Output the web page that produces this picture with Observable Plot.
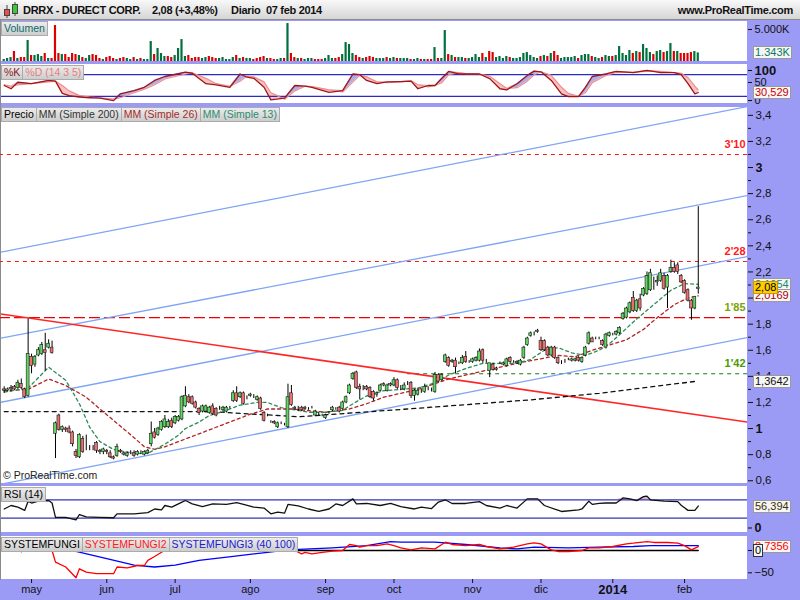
<!DOCTYPE html>
<html><head><meta charset="utf-8">
<script src="https://cdn.jsdelivr.net/npm/d3@7"></script>
<script src="https://cdn.jsdelivr.net/npm/@observablehq/plot@0.6"></script>
<style>
body{margin:0;background:#fff;}
#root{position:relative;width:800px;height:600px;background:#9b9bf5;overflow:hidden;font-family:'Liberation Sans',Arial,sans-serif;}
#root svg{position:absolute;left:0;}
.panel{position:absolute;left:1px;width:746px;background:#fff;}
.lbls{position:absolute;left:1px;display:flex;}
.lb{height:13px;line-height:13px;font-size:10.5px;padding:0 2px;background:linear-gradient(#ececec,#cdcdcd);border:1px solid #ababab;border-left:none;white-space:nowrap;}
.lb:first-child{border-left:1px solid #ababab;}
.vb{position:absolute;left:753px;height:11px;line-height:11px;font-size:11px;padding:0 1px;background:#f6f6f6;border:1px solid #9a9a9a;white-space:nowrap;}
.ht{position:absolute;top:4px;font-weight:bold;font-size:11px;letter-spacing:-0.3px;color:#111;white-space:nowrap;}
</style></head>
<body>
<div id="root"></div>
<script>
// ---------------- DATA ----------------
// daily candles, index 0 = 19 abr 2013 ... 203 = 07 feb 2014
const open = [
1.30,1.29,1.30,1.32,1.31,1.34,1.30,1.25,1.55,1.49,
1.56,1.57,1.60,1.62,1.62,0.96,1.10,0.99,1.00,1.00,
0.97,0.82,0.78,0.92,0.86,0.86,0.85,0.89,0.83,0.82,
0.83,0.81,0.78,0.79,0.83,0.81,0.79,0.81,0.81,0.80,
0.81,0.80,0.81,0.88,0.97,0.95,0.99,1.01,1.01,1.06,
1.04,1.06,1.07,1.17,1.24,1.24,1.20,1.15,1.13,1.13,
1.12,1.17,1.15,1.15,1.14,1.13,1.16,1.21,1.27,1.24,
1.27,1.24,1.25,1.25,1.22,1.23,1.12,1.10,1.05,1.05,
1.01,1.04,1.03,1.01,1.27,1.16,1.15,1.16,1.16,1.15,
1.16,1.10,1.11,1.10,1.08,1.12,1.14,1.15,1.16,1.15,
1.20,1.27,1.38,1.43,1.32,1.31,1.32,1.31,1.28,1.26,
1.29,1.33,1.29,1.33,1.33,1.37,1.31,1.30,1.34,1.35,
1.25,1.26,1.28,1.28,1.30,1.29,1.28,1.41,1.37,1.51,
1.54,1.51,1.52,1.50,1.50,1.55,1.51,1.51,1.52,1.52,
1.60,1.52,1.44,1.49,1.46,1.50,1.49,1.48,1.54,1.51,
1.50,1.49,1.54,1.64,1.71,1.73,1.74,1.67,1.67,1.62,
1.56,1.62,1.54,1.51,1.52,1.53,1.52,1.52,1.54,1.51,
1.56,1.65,1.69,1.69,1.69,1.67,1.62,1.71,1.72,1.72,
1.73,1.84,1.85,1.89,2.00,1.90,1.99,2.02,2.03,2.06,
2.11,2.12,2.13,2.17,2.08,2.20,2.23,2.25,2.17,2.13,
2.06,1.98,1.92,2.07];
const high = [
1.32,1.31,1.33,1.33,1.37,1.38,1.31,1.84,1.57,1.56,
1.62,1.66,1.73,1.68,1.67,1.05,1.11,1.02,1.01,1.02,
0.98,0.84,0.96,0.94,0.95,0.87,0.87,0.90,0.84,0.85,
0.84,0.83,0.79,0.88,0.84,0.82,0.82,0.83,0.83,0.83,
0.83,0.83,0.84,1.05,1.00,1.01,1.06,1.10,1.07,1.08,
1.10,1.10,1.25,1.32,1.26,1.25,1.21,1.16,1.18,1.18,
1.17,1.19,1.16,1.17,1.17,1.17,1.17,1.29,1.32,1.28,
1.28,1.25,1.27,1.26,1.25,1.24,1.13,1.11,1.06,1.06,
1.05,1.05,1.04,1.34,1.33,1.17,1.17,1.17,1.17,1.16,
1.17,1.14,1.12,1.11,1.11,1.13,1.17,1.16,1.17,1.21,
1.25,1.34,1.43,1.44,1.34,1.33,1.33,1.32,1.29,1.28,
1.34,1.35,1.34,1.35,1.39,1.38,1.33,1.35,1.36,1.36,
1.30,1.31,1.30,1.34,1.32,1.31,1.43,1.42,1.42,1.57,
1.55,1.53,1.54,1.51,1.56,1.59,1.52,1.54,1.55,1.61,
1.61,1.53,1.50,1.50,1.47,1.51,1.51,1.54,1.55,1.52,
1.52,1.53,1.63,1.70,1.74,1.74,1.76,1.70,1.68,1.63,
1.63,1.63,1.55,1.52,1.53,1.54,1.54,1.54,1.55,1.55,
1.63,1.74,1.70,1.70,1.70,1.68,1.73,1.74,1.73,1.75,
1.78,1.89,1.93,1.97,2.05,1.99,2.03,2.08,2.20,2.22,
2.16,2.17,2.22,2.19,2.18,2.29,2.27,2.27,2.18,2.14,
2.07,1.99,2.01,2.70];
const low = [
1.27,1.28,1.28,1.29,1.30,1.30,1.23,1.24,1.42,1.47,
1.55,1.56,1.44,1.61,1.57,0.77,0.98,0.97,0.97,0.96,
0.86,0.77,0.77,0.81,0.83,0.83,0.83,0.81,0.80,0.80,
0.80,0.77,0.76,0.78,0.81,0.79,0.78,0.80,0.78,0.79,
0.80,0.79,0.80,0.86,0.92,0.94,0.98,1.00,1.00,1.00,
1.03,1.05,1.06,1.16,1.19,1.18,1.15,1.10,1.12,1.12,
1.11,1.10,1.09,1.14,1.13,1.12,1.15,1.20,1.20,1.23,
1.18,1.22,1.24,1.23,1.21,1.14,1.05,1.09,1.04,1.03,
1.00,1.03,1.02,1.00,1.17,1.14,1.13,1.13,1.14,1.14,
1.15,1.09,1.10,1.09,1.07,1.11,1.13,1.14,1.12,1.14,
1.19,1.26,1.37,1.30,1.22,1.29,1.29,1.23,1.21,1.24,
1.28,1.32,1.28,1.32,1.32,1.30,1.29,1.29,1.33,1.23,
1.21,1.25,1.27,1.27,1.29,1.28,1.27,1.35,1.36,1.50,
1.47,1.50,1.42,1.49,1.49,1.50,1.50,1.50,1.51,1.51,
1.50,1.50,1.39,1.44,1.44,1.49,1.48,1.47,1.50,1.50,
1.49,1.48,1.53,1.63,1.70,1.71,1.73,1.59,1.59,1.55,
1.55,1.53,1.49,1.49,1.50,1.52,1.51,1.51,1.51,1.50,
1.55,1.64,1.66,1.68,1.68,1.63,1.61,1.70,1.71,1.71,
1.72,1.83,1.84,1.88,1.89,1.89,1.90,2.01,2.02,2.05,
2.06,2.09,2.12,2.06,1.92,2.19,2.19,2.18,2.11,2.03,
1.97,1.83,1.91,2.03];
const close = [
1.29,1.30,1.31,1.30,1.35,1.31,1.24,1.57,1.48,1.55,
1.60,1.64,1.58,1.65,1.58,1.04,0.99,1.01,0.99,0.97,
0.88,0.79,0.95,0.82,0.86,0.86,0.85,0.83,0.82,0.84,
0.82,0.78,0.77,0.86,0.82,0.80,0.81,0.81,0.79,0.82,
0.81,0.82,0.83,0.96,0.93,1.00,1.05,1.07,1.05,1.01,
1.09,1.09,1.24,1.25,1.20,1.19,1.16,1.12,1.17,1.17,
1.16,1.11,1.10,1.15,1.16,1.16,1.16,1.27,1.21,1.27,
1.19,1.24,1.26,1.25,1.24,1.15,1.06,1.10,1.05,1.04,
1.04,1.04,1.03,1.24,1.18,1.15,1.15,1.14,1.15,1.15,
1.16,1.13,1.11,1.10,1.10,1.12,1.16,1.15,1.13,1.20,
1.24,1.33,1.42,1.31,1.30,1.31,1.30,1.24,1.23,1.27,
1.33,1.34,1.33,1.34,1.37,1.31,1.31,1.33,1.34,1.25,
1.29,1.29,1.28,1.32,1.30,1.29,1.41,1.36,1.41,1.56,
1.48,1.52,1.47,1.50,1.54,1.51,1.51,1.53,1.54,1.59,
1.52,1.52,1.50,1.45,1.45,1.50,1.50,1.53,1.51,1.51,
1.51,1.52,1.62,1.69,1.73,1.73,1.75,1.60,1.60,1.56,
1.62,1.54,1.50,1.51,1.52,1.53,1.53,1.53,1.52,1.54,
1.62,1.73,1.66,1.69,1.69,1.64,1.72,1.73,1.72,1.74,
1.77,1.88,1.92,1.96,1.90,1.98,1.92,2.07,2.17,2.19,
2.11,2.13,2.19,2.07,2.17,2.23,2.20,2.20,2.12,2.04,
1.98,1.92,2.01,2.08];
// volume in thousands of shares
const volumeK = [
310,470,620,1560,470,620,620,3280,940,940,
1090,780,1250,470,470,5620,1250,1090,1090,620,
1250,1090,940,620,470,940,1090,940,470,310,
620,780,470,310,470,620,470,310,620,310,
470,310,310,3120,1090,2030,1250,780,780,620,
940,2030,3430,780,940,470,620,620,470,620,
780,620,470,470,620,310,310,620,940,470,
620,470,470,310,470,620,780,470,470,310,
310,470,470,5930,1250,620,470,470,310,470,
470,310,310,310,470,940,470,470,620,1090,
2960,2650,1250,940,620,470,620,780,620,470,
470,470,620,470,620,470,470,470,470,310,
310,470,310,310,310,310,2180,470,470,4840,
1090,940,620,620,620,470,470,620,1090,620,
1250,620,1560,1400,620,780,470,780,620,470,
470,620,1250,1400,940,620,470,780,940,780,
1250,1560,940,470,620,620,620,780,470,940,
1090,1090,780,620,470,620,940,780,780,940,
2340,1250,940,1720,1250,1560,1400,2650,2030,1400,
1090,1560,1720,1400,1560,2810,1560,1560,1250,1250,
1250,1400,1560,1343];
// moving averages (read at candle indices)
const ma13I = [0,7,13,18,22,25,28,32,38,42,47,51,53,57,60,64,69,74,77,81,86,89,94,99,102,106,111,121,126,130,135,140,145,150,154,158,162,166,170,174,177,180,185,190,195,199,203];
const ma13V = [1.28,1.31,1.47,1.37,1.19,1.01,0.90,0.84,0.81,0.81,0.88,0.95,1.00,1.05,1.10,1.13,1.18,1.20,1.20,1.16,1.14,1.125,1.125,1.14,1.19,1.25,1.29,1.31,1.35,1.41,1.46,1.50,1.50,1.50,1.53,1.60,1.62,1.58,1.56,1.60,1.65,1.72,1.84,1.95,2.06,2.11,2.1054];
const ma26I = [0,7,13,18,24,28,33,38,41,44,47,51,57,62,67,72,77,84,94,101,106,111,121,130,140,150,154,162,167,172,177,182,187,191,196,200,203];
const ma26V = [1.29,1.30,1.38,1.33,1.24,1.15,1.04,0.93,0.86,0.84,0.86,0.90,0.96,1.01,1.06,1.11,1.15,1.15,1.125,1.15,1.19,1.24,1.30,1.38,1.44,1.50,1.52,1.56,1.55,1.60,1.64,1.68,1.76,1.85,1.95,2.00,2.0169];
const ma200I = [0,40,60,80,86,118,154,174,203];
const ma200V = [1.13,1.13,1.13,1.10,1.09,1.15,1.22,1.27,1.3642];
// drawn trend lines (candle index, price)
const channelI1 = [-1.4,-1.4,-1.4,-1.4], channelV1 = [2.349,1.69,1.199,0.571];
const channelI2 = [217.4,217.4,217.4,217.4], channelV2 = [3.467,2.785,2.318,1.698];
const redLineI = [-1.4,217.4], redLineV = [1.879,1.05];
const levelV = [3.10,2.28,1.85,1.42];
const levelText = ["3'10","2'28","1'85","1'42"];
const levelFromI = [-1.4,-1.4,-1.4,118];
// stochastic %K / %D (14 3 5)
const stochI = [0,2,4,8,13,15,17,19,22,25,28,32,34,38,41,44,47,53,55,59,62,66,69,71,73,76,78,82,85,88,90,95,99,102,104,106,109,112,116,119,121,124,126,128,130,133,135,139,142,145,147,150,153,155,157,160,163,165,168,170,172,176,179,184,188,192,196,198,200,202,203];
const stochK = [50,41,59,55,64,62,28,22,17.5,16,15,8,27,36,45,64,75,87,84,55,52,45,82,73,70,45,10,15,50,48,45,31,36,82,80,64,55,60,61,62,41,50,50,70,89,82,82,82,69,41,38,55,78,90,88,64,27,19,19,45,75,82,89,86,92,86,86,80,55,27,30.529];
const stochD = [52,48,52,55,60,62,50,35,22,18,16,12,16,30,40,52,68,82,85,70,55,48,62,76,74,60,30,12,35,48,47,38,32,60,78,74,60,58,60,63,52,46,50,58,80,86,83,82,76,55,42,44,62,80,88,78,45,28,20,30,58,78,86,87,89,89,86,84,72,48,38];
// RSI (14)
const rsiI = [0,2,4,6,7,8,10,13,14,15,18,21,22,24,28,32,33,36,38,42,44,46,47,49,52,53,55,58,61,65,68,70,73,76,78,80,82,83,86,89,92,95,97,99,102,103,106,110,113,116,120,122,125,127,129,131,135,139,141,145,147,150,153,156,158,163,168,169,171,172,174,176,179,181,183,185,187,188,189,193,197,198,200,202,203];
const rsiV = [50,57.6,54,47,67,63,67,68.5,63,32,32,26.5,38,33,32,31,39.5,39.5,39.5,42,50,48,57.6,54,65,68.5,61,55,61,60,64,60,54,52,39.5,43,41,60,57,50,45,50,61,57.6,72,61,62,57.6,62,55,50,54,51,65,70,62,62,66,57.6,52,57.6,52,72,72,57.6,44.6,48,50,67,60,62,63,63,74,72,68,77,78,70,67,66,58,47,47,56.394];
// SYSTEMFUNGI / SYSTEMFUNGI2 / SYSTEMFUNGI3 (40 100)
const sf1I = [0,203], sf1V = [0,0];
const sf2I = [0,4,5,7,10,13,14,15,18,21,22,24,27,30,32,33,36,39,41,42,44,46,48,55,65,75,83,85,87,88,90,93,96,99,101,103,104,106,109,112,114,116,119,122,126,128,129,131,135,139,141,145,149,153,155,157,160,162,165,169,171,174,178,182,184,188,190,194,197,199,201,203];
const sf2V = [10,3,-3,15,20,15,0,-26,-37,-61,-41,-48.6,-52,-52,-52,-37,-39,-33.6,-33.6,-22,-13.5,-4,5,15,10,8,3.7,0,-7.5,-4,-7.5,-4,-1.5,0,13.5,11,7.5,11,11,15,11,6,1.5,6,3.7,13.5,18.7,13.5,11,13.5,9,3.7,7.5,15,17,15,1.5,-2.2,-2.2,0,6,6,9,15,16.4,20,18,18,16.4,11,1.5,8.7356];
const sf3I = [0,10,17,21,30,38,44,50,57,67,77,83,96,106,113,116,126,135,145,150,155,165,174,184,189,194,203];
const sf3V = [20,10,3,-2,-18,-33,-37,-33,-22,-13,-4,1.5,6,11,20,19,18.7,13.5,6,3.7,7.5,6,7.5,9,11,11,11];
// axes
const monthTickI = [8,30,50,72,94,114,137,157,199];
const monthTickLabel = ["may","jun","jul","ago","sep","oct","nov","dic","feb"];
const yearTickI = [178], yearTickLabel = ["2014"];
const priceTicks = [0.6,0.8,1,1.2,1.4,1.6,1.8,2,2.2,2.4,2.6,2.8,3,3.2,3.4];
const priceMinor = [0.7,0.9,1.1,1.3,1.5,1.7,1.9,2.1,2.3,2.5,2.7,2.9,3.1,3.3];

// ---------------- DRAW ----------------
const FONT = "'Liberation Sans', Arial, sans-serif";
const root = document.getElementById("root");
const xDomain = [-0.79, 217.4];
const UP = "#62d662", DN = "#ec7070";
const zip = (I, V) => I.map((i, k) => ({i, v: V[k]}));
const fmt = d => String(+d.toFixed(2)).replace(".", ",");

function el(tag, cls, style, html) {
  const e = document.createElement(tag);
  if (cls) e.className = cls;
  if (style) e.setAttribute("style", style);
  if (html != null) e.innerHTML = html;
  root.appendChild(e);
  return e;
}
function base(h, extra) {
  return Object.assign({
    width: 800, height: h, marginLeft: 1, marginRight: 53, marginTop: 0, marginBottom: 0,
    x: {domain: xDomain, axis: null},
    color: {type: "identity"},
    style: {background: "transparent", fontFamily: FONT, fontSize: "11px", color: "#111", overflow: "visible"}
  }, extra);
}
function place(svg, top) { svg.style.top = top + "px"; svg.style.position = "absolute"; svg.style.left = "0px"; root.appendChild(svg); return svg; }
const yAx = o => Plot.axisY(Object.assign({anchor: "right", label: null, tickSize: 4, tickPadding: 3}, o));
const xAx = o => Plot.axisX(Object.assign({anchor: "bottom", label: null, tickSize: 4, tickPadding: 2}, o));

// panel backgrounds
const P = {vol: [21, 40], st: [64, 39], pr: [107, 376], rsi: [486, 46], sf: [536, 43]};
for (const k in P) el("div", "panel", `top:${P[k][0]}px;height:${P[k][1]}px;`);
el("div", null, "position:absolute;left:0;top:20px;width:1px;height:560px;background:#8a8a8a;");

// header
const hdr = el("div", null, "position:absolute;left:0;top:0;width:800px;height:20px;background:linear-gradient(#f8f8f8,#d6d6d6);border-bottom:1px solid #8c8c8c;box-sizing:border-box;");
hdr.innerHTML = `<svg width="16" height="18" style="position:absolute;left:3px;top:1px">
<line x1="4" y1="4" x2="4" y2="17" stroke="#444"/><rect x="1.5" y="8.5" width="5" height="6" fill="#e85050" stroke="#444"/>
<line x1="12" y1="1" x2="12" y2="15" stroke="#444"/><rect x="9.5" y="3.5" width="5" height="9" fill="#3cc83c" stroke="#444"/></svg>
<span class="ht" style="left:23px">DRRX - DURECT CORP.</span>
<span class="ht" style="left:152px">2,08 (+3,48%)</span>
<span class="ht" style="left:231px">Diario&nbsp; 07 feb 2014</span>
<span class="ht" style="right:7px">www.ProRealTime.com</span>`;

const candles = close.map((c, i) => ({i, o: open[i], h: high[i], l: low[i], c}));
const vols = volumeK.map((v, i) => ({i, v, up: i === 0 || close[i] >= close[i - 1]}));

// volume
const volPlot = place(Plot.plot(base(40, {
  y: {domain: [0, 6250], axis: null},
  marks: [
    Plot.rect(vols, {x1: d => d.i - 0.32, x2: d => d.i + 0.32, y1: 0, y2: "v", fill: d => d.up ? "#00703c" : "#dd0000"}),
    yAx({ticks: [5000], tickFormat: () => "5.000K", fontSize: 11})
  ]
})), P.vol[0]);

// stochastic
const st = stochI.map((i, k) => ({i, k: stochK[k], d: stochD[k]}));
const stPlot = place(Plot.plot(base(39, {
  y: {domain: [0, 108.33], axis: null},
  marks: [
    Plot.areaY(st, {x: "i", y1: "d", y2: d => Math.max(d.k, d.d), fill: "#a9aeea"}),
    Plot.areaY(st, {x: "i", y1: "k", y2: d => Math.max(d.k, d.d), fill: "#f6c2c2"}),
    Plot.ruleY([80, 20], {stroke: "#2a2ac8", strokeWidth: 1.2}),
    Plot.line(st, {x: "i", y: "d", stroke: "#f08c8c", strokeWidth: 1.2}),
    Plot.line(st, {x: "i", y: "k", stroke: "#a31515", strokeWidth: 1.3}),
    yAx({ticks: [50, 0], fontSize: 11, dy: -3}),
    yAx({ticks: [100], fontSize: 13, fontWeight: "bold", dy: 3})
  ]
})), P.st[0]);

// price
const chan = channelI1.map((i, k) => ({x1: i, y1: channelV1[k], x2: channelI2[k], y2: channelV2[k]}));
const lvlStyle = [
  {stroke: "#ff1a1a", dash: "4,4", color: "#ff1a1a"},
  {stroke: "#ff1a1a", dash: "4,4", color: "#ff1a1a"},
  {stroke: "#e80000", dash: "11,4", color: "#7ba300"},
  {stroke: "#1a7a1a", dash: "4,4", color: "#4c9a00"}
];
const levels = levelV.map((v, k) => ({v, t: levelText[k], from: levelFromI[k], to: 217.4}));
const pricePlot = place(Plot.plot(base(376, {
  y: {domain: [0.579, 3.46], axis: null},
  marks: [
    ...levels.map((d, k) => Plot.ruleY([d], {y: "v", x1: "from", x2: "to", stroke: lvlStyle[k].stroke, strokeDasharray: lvlStyle[k].dash, strokeWidth: 1.2})),
    ...levels.map((d, k) => Plot.text([d], {y: "v", text: "t", frameAnchor: "right", textAnchor: "end", dx: -2, dy: -10, fill: lvlStyle[k].color, fontSize: 11, fontWeight: "bold"})),
    Plot.link(chan, {x1: "x1", y1: "y1", x2: "x2", y2: "y2", stroke: "#7ea4f4", strokeWidth: 1.3, clip: true}),
    Plot.link([{x1: redLineI[0], y1: redLineV[0], x2: redLineI[1], y2: redLineV[1]}], {x1: "x1", y1: "y1", x2: "x2", y2: "y2", stroke: "#ff2626", strokeWidth: 1.6, clip: true}),
    Plot.line(zip(ma200I, ma200V), {x: "i", y: "v", stroke: "#111", strokeWidth: 1.3, strokeDasharray: "4,4"}),
    Plot.line(zip(ma26I, ma26V), {x: "i", y: "v", stroke: "#b22222", strokeWidth: 1.3, strokeDasharray: "3,3"}),
    Plot.line(zip(ma13I, ma13V), {x: "i", y: "v", stroke: "#2e8b57", strokeWidth: 1.3, strokeDasharray: "3,3"}),
    Plot.ruleX(candles, {x: "i", y1: "l", y2: "h", stroke: "#000", strokeWidth: 1}),
    Plot.rect(candles, {x1: d => d.i - 0.42, x2: d => d.i + 0.42, y1: "o", y2: "c", fill: d => d.c >= d.o ? UP : DN, stroke: "#1a1a1a", strokeWidth: 0.6}),
    yAx({ticks: priceMinor, tickSize: 3, tickFormat: () => ""}),
    yAx({ticks: priceTicks.filter(t => !Number.isInteger(t)), tickSize: 5, tickFormat: fmt, fontSize: 11.5}),
    yAx({ticks: priceTicks.filter(t => Number.isInteger(t)), tickSize: 5, tickFormat: fmt, fontSize: 12.5, fontWeight: "bold"})
  ]
})), P.pr[0]);

// RSI
const rsi = zip(rsiI, rsiV);
const rsiPlot = place(Plot.plot(base(46, {
  y: {domain: [-1.09, 98.9], axis: null},
  marks: [
    Plot.areaY(rsi, {x: "i", y1: d => 70, y2: d => Math.max(70, d.v), fill: "#e8b4c4"}),
    Plot.ruleY([70, 30], {stroke: "#3434b0", strokeWidth: 1.2}),
    Plot.line(rsi, {x: "i", y: "v", stroke: "#111", strokeWidth: 1.3}),
    yAx({ticks: [0], fontSize: 12.5, fontWeight: "bold", dy: -4})
  ]
})), P.rsi[0]);

// SYSTEMFUNGI + x axis
const sfPlot = place(Plot.plot(base(64, {
  marginBottom: 21,
  y: {domain: [-65, 31.4], axis: null},
  marks: [
    Plot.line(zip(sf1I, sf1V), {x: "i", y: "v", stroke: "#000", strokeWidth: 1.3}),
    Plot.line(zip(sf3I, sf3V), {x: "i", y: "v", stroke: "#0000ff", strokeWidth: 1.3}),
    Plot.line(zip(sf2I, sf2V), {x: "i", y: "v", stroke: "#ff0000", strokeWidth: 1.3}),
    yAx({ticks: [0, -50], fontSize: 11.5}),
    xAx({ticks: monthTickI, fontSize: 11, tickFormat: d => monthTickLabel[monthTickI.indexOf(d)]}),
    xAx({ticks: yearTickI, tickPadding: 1, fontSize: 13, fontWeight: "bold", tickFormat: d => yearTickLabel[yearTickI.indexOf(d)]})
  ]
})), P.sf[0]);

// panel labels
function labels(top, items) {
  const c = el("div", "lbls", `top:${top}px;`);
  for (const [t, col] of items) { const s = document.createElement("div"); s.className = "lb"; s.style.color = col; s.textContent = t; c.appendChild(s); }
}
labels(21, [["Volumen", "#0b6b6b"]]);
labels(65, [["%K", "#8b1a1a"], ["%D (14 3 5)", "#e57f7f"]]);
labels(107, [["Precio", "#000"], ["MM (Simple 200)", "#333"], ["MM (Simple 26)", "#a52a2a"], ["MM (Simple 13)", "#2e8b70"]]);
labels(487, [["RSI (14)", "#000"]]);
labels(537, [["SYSTEMFUNGI", "#000"], ["SYSTEMFUNGI2", "#ff1a1a"], ["SYSTEMFUNGI3 (40 100)", "#1a1ad0"]]);
el("div", null, "position:absolute;left:3px;top:469px;font-size:10.5px;color:#222;", "&copy; ProRealTime.com");

// value boxes on the right axis
function vbox(plot, top, v, text, color, extra) {
  const y = top + plot.scale("y").apply(v);
  return el("div", "vb", `top:${Math.round(y - 6)}px;color:${color};${extra || ""}`, text);
}
const fmt4 = v => v.toFixed(4).replace(".", ",");
vbox(volPlot, P.vol[0], volumeK[volumeK.length - 1], "1.343K", "#0b7a5e");
vbox(stPlot, P.st[0], stochK[stochK.length - 1], "30,529", "#cc0000");
vbox(pricePlot, P.pr[0], ma13V[ma13V.length - 1], fmt4(ma13V[ma13V.length - 1]), "#1d8a70");
vbox(pricePlot, P.pr[0], ma26V[ma26V.length - 1], fmt4(ma26V[ma26V.length - 1]), "#b00000");
vbox(pricePlot, P.pr[0], close[close.length - 1], "2,08", "#000", "background:#ffcc00;border-color:#c89a00;");
vbox(pricePlot, P.pr[0], ma200V[ma200V.length - 1], fmt4(ma200V[ma200V.length - 1]), "#111");
vbox(rsiPlot, P.rsi[0], rsiV[rsiV.length - 1], "56,394", "#3a3000");
vbox(sfPlot, P.sf[0], sf2V[sf2V.length - 1], fmt4(sf2V[sf2V.length - 1]), "#ff0000");
vbox(sfPlot, P.sf[0], 0, "0", "#000", "border-color:#333;");
</script>
</body></html>
